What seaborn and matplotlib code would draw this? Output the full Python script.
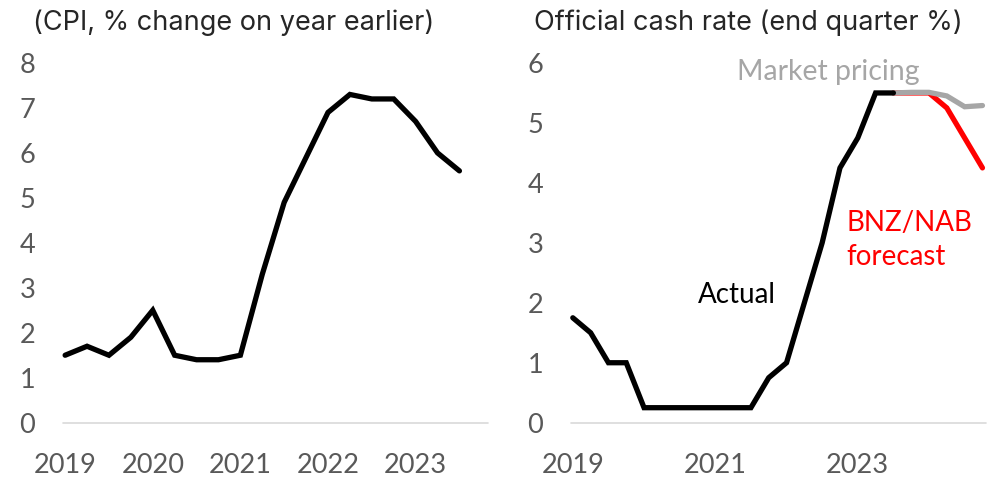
import numpy as np
import pandas as pd
import seaborn as sns
import matplotlib.pyplot as plt

# CPI annual % change, quarterly 2019Q1 - 2023Q3
cpi = [1.5, 1.7, 1.5, 1.9, 2.5, 1.5, 1.4, 1.4, 1.5, 3.3,
       4.9, 5.9, 6.9, 7.3, 7.2, 7.2, 6.7, 6.0, 5.6]

# OCR end quarter, 2019Q1 - 2023Q3 (actual)
ocr_actual = [1.75, 1.5, 1.0, 1.0, 0.25, 0.25, 0.25, 0.25, 0.25, 0.25,
              0.25, 0.75, 1.0, 2.0, 3.0, 4.25, 4.75, 5.5, 5.5]
# 2023Q3 - 2024Q4
ocr_forecast = [5.5, 5.5, 5.5, 5.25, 4.75, 4.25]
ocr_market = [5.5, 5.51, 5.51, 5.45, 5.27, 5.29]

cpi_ticks = [0, 4, 8, 12, 16]
cpi_ticklabels = ["2019", "2020", "2021", "2022", "2023"]
ocr_ticks = [0, 8, 16]
ocr_ticklabels = ["2019", "2021", "2023"]

sns.set_style("white")
plt.rcParams['font.family'] = ['Lato', 'DejaVu Sans']

fig = plt.figure(figsize=(9.99, 4.8), dpi=100)
ax1 = fig.add_axes([0.063, 0.1194, 0.4254, 0.7494])
ax2 = fig.add_axes([0.5716, 0.1194, 0.4154, 0.7494])

lw = 3.8
grey_txt = "#595959"

# left panel
df_cpi = pd.DataFrame({"q": np.arange(len(cpi)), "v": cpi})
sns.lineplot(data=df_cpi, x="q", y="v", ax=ax1, color="black", lw=lw)
ax1.set_xlim(-0.1, 19.3)
ax1.set_ylim(0, 8)
ax1.set_yticks(range(0, 9))
ax1.set_xticks(cpi_ticks)
ax1.set_xticklabels(cpi_ticklabels)

# right panel
n_act = len(ocr_actual)
df_act = pd.DataFrame({"q": np.arange(n_act), "v": ocr_actual})
q_fc = np.arange(n_act - 1, n_act - 1 + len(ocr_forecast))
df_fc = pd.DataFrame({"q": q_fc, "v": ocr_forecast})
df_mk = pd.DataFrame({"q": q_fc, "v": ocr_market})
sns.lineplot(data=df_fc, x="q", y="v", ax=ax2, color="#FF0000", lw=lw)
sns.lineplot(data=df_mk, x="q", y="v", ax=ax2, color="#A6A6A6", lw=lw)
sns.lineplot(data=df_act, x="q", y="v", ax=ax2, color="black", lw=lw)
ax2.set_xlim(-0.1, 23.2)
ax2.set_ylim(0, 6)
ax2.set_yticks(range(0, 7))
ax2.set_xticks(ocr_ticks)
ax2.set_xticklabels(ocr_ticklabels)

ax2.text(7.0, 2.13, "Actual", color="black", fontsize=20,
         ha="left", va="center")
ax2.text(9.2, 5.85, "Market pricing", color="#A6A6A6", fontsize=20.5,
         ha="left", va="center")
ax2.text(15.35, 3.05, "BNZ/NAB\nforecast", color="#FF0000", fontsize=20,
         ha="left", va="center", linespacing=1.4)

for ax in (ax1, ax2):
    for s in ax.spines.values():
        s.set_visible(False)
    ax.axhline(0, color="#D9D9D9", lw=1.2, zorder=0)
    ax.tick_params(length=0, labelsize=19.5, labelcolor=grey_txt)
    ax.tick_params(axis="y", pad=20)
    ax.tick_params(axis="x", pad=22)
    ax.set_xlabel("")
    ax.set_ylabel("")
    for line in ax.lines:
        line.set_clip_on(False)
        line.set_solid_capstyle("round")
        line.set_solid_joinstyle("miter")

fig.text(0.033, 0.952, "(CPI, % change on year earlier)", fontsize=19.5,
         family="Inter", ha="left", va="center")
fig.text(0.535, 0.952, "Official cash rate (end quarter %)", fontsize=19.5,
         family="Inter", ha="left", va="center")

fig.savefig("out.png", dpi=100)
